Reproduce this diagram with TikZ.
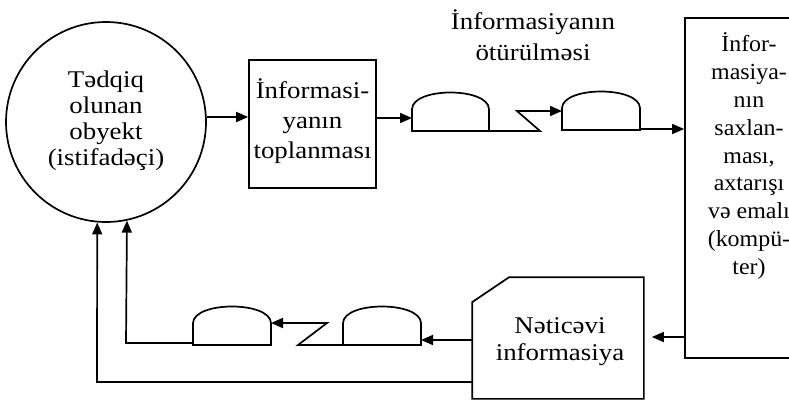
\documentclass[tikz,border=0pt]{standalone}
\usepackage{fontspec}
\setmainfont[FakeStretch=1.12]{Liberation Serif}
\newfontfamily\storefont[FakeStretch=1.04]{Liberation Serif}
\usetikzlibrary{arrows.meta}
\begin{document}
\begin{tikzpicture}[x=1pt,y=-1pt,
  line width=1.7pt,
  arr/.style={-{Triangle[length=12pt,width=10pt]}},
  txt/.style={align=center,font=\fontsize{24}{28}\selectfont,inner sep=0pt},
  dome/.style={line width=1.7pt}
]
\useasboundingbox (0,0) rectangle (789,405);
\clip (0,0) rectangle (789,405);
% circle
\node[circle,draw,minimum size=200pt,inner sep=0pt] (obj) at (106,122) {};
\node[txt,font=\fontsize{24}{26}\selectfont] (objt) at (106,121) {Tədqiq\\olunan\\obyekt\\(istifadəçi)};
% collection box
\node[draw,minimum width=127pt,minimum height=128pt,inner sep=0pt] (col) at (312.5,124) {};
\node[txt,font=\fontsize{24}{30}\selectfont] (colt) at (312.5,121) {İnformasi-\\yanın\\toplanması};
% storage box (right edge outside)
\node[draw,minimum width=140pt,minimum height=340pt,inner sep=0pt] (store) at (755,188) {};
\node[txt,font=\storefont\fontsize{23}{27.8}\selectfont] (storet) at (749,156) {İnfor-\\masiya-\\nın\\saxlan-\\ması,\\axtarışı\\və emalı\\(kompü-\\ter)};
% result box
\node[minimum width=170pt,minimum height=120pt,inner sep=0pt] (res) at (558,338) {};
\draw (res.south west) -- ([yshift=-25pt]res.north west) -- ([xshift=37pt]res.north west) -- (res.north east) -- (res.south east) -- cycle;
\node[txt,font=\fontsize{24}{27}\selectfont] (rest) at (560,342) {Nəticəvi\\informasiya};
% top label
\node[txt,font=\fontsize{24}{31}\selectfont] (lab) at (533,35) {İnformasiyanın\\ötürülməsi};
% domes
\draw[dome] (412,131) -- (412,109) .. controls (413,87) and (488,87) .. (489,109) -- (489,131) -- cycle;
\draw[dome] (562,130) -- (562,108) .. controls (563,86) and (639,86) .. (640,108) -- (640,130) -- cycle;
\draw[dome] (343,345) -- (343,323) .. controls (344,301) and (420,301) .. (421,323) -- (421,345) -- cycle;
\draw[dome] (193,345) -- (193,323) .. controls (194,301) and (270,301) .. (271,323) -- (271,345) -- cycle;
\coordinate (d1w) at (412,118);
\coordinate (d1se) at (489,131);
\coordinate (z1a) at (540,131);
\coordinate (z1b) at (517,111);
\coordinate (d2w) at (562,111);
\coordinate (d2se) at (640,129);
\coordinate (d3e) at (421,340);
\coordinate (d3sw) at (343,345);
\coordinate (z2a) at (298,345);
\coordinate (z2b) at (327,323);
\coordinate (d4e) at (271,323);
\coordinate (d4sw) at (193,343);
\coordinate (c1) at (126,343);
\coordinate (c2) at (97,382);
% connectors
\draw[arr] (obj.east |- 0,117) -- (col.west |- 0,117);
\draw[arr] (col.east |- d1w) -- (d1w);
\draw[arr] (d1se) -- (z1a) -- (z1b) -- (d2w);
\draw[arr] (d2se) -- (store.west |- d2se);
\draw[arr,shorten >=8pt] (store.west |- 0,337) -- (res.east |- 0,337);
\draw[arr] (res.west |- d3e) -- (d3e);
\draw[arr] (d3sw) -- (z2a) -- (z2b) -- (d4e);
\draw[arr] (d4sw) -- (c1) -- (obj.-78.5);
\draw[arr] (res.west |- c2) -- (c2) -- (obj.-95.4);
\end{tikzpicture}
\end{document}
